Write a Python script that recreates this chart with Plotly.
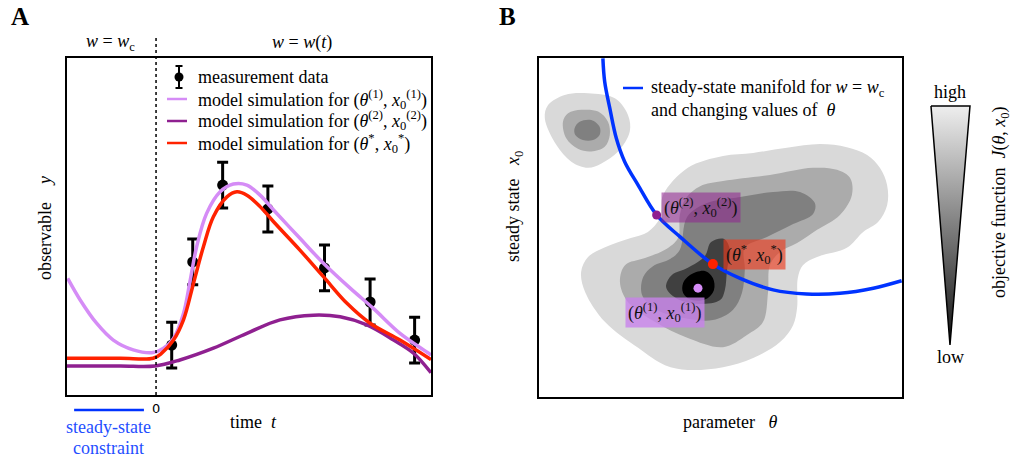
import plotly.graph_objects as go

W, H = 1015, 462
def fx(p): return p / W
def fy(p): return 1 - p / H

SERIF = "Liberation Serif"
LILAC = "#d58cf6"
PURPLE = "#8f2090"
RED = "#ff2200"
BLUE = "#0033ff"

# ---------------- Panel A data ----------------
t_meas = [0.44, 1.03, 1.87, 3.14, 4.73, 6.01, 7.26]
y_meas = [1.48, 3.95, 6.23, 5.52, 3.77, 2.76, 1.63]
y_err = [0.68, 0.68, 0.68, 0.68, 0.68, 0.68, 0.68]

t_sim1 = [-2.48, -2.13, -1.67, -1.20, -0.64, -0.08, 0.21, 0.49, 0.77, 0.96, 1.14, 1.42,
          1.80, 2.17, 2.55, 2.92, 3.30, 4.04, 4.70, 5.45, 6.10, 6.85, 7.65, 7.72]
y_sim1 = [3.46, 2.82, 2.13, 1.63, 1.34, 1.26, 1.39, 1.68, 2.42, 3.41, 4.40, 5.39,
          6.03, 6.26, 6.23, 5.93, 5.49, 4.65, 3.91, 3.17, 2.57, 1.83, 1.24, 1.18]

t_sim2 = [-2.5, -1.0, -0.03, 0.67, 1.61, 2.55, 3.48, 4.42, 5.17, 5.92, 6.67, 7.23, 7.72]
y_sim2 = [0.86, 0.86, 0.86, 1.04, 1.39, 1.83, 2.23, 2.37, 2.32, 2.08, 1.63, 1.24, 0.66]

t_simopt = [-2.5, -1.0, -0.08, 0.16, 0.49, 0.77, 1.05, 1.33, 1.61, 1.99, 2.27, 2.55,
            2.92, 3.30, 4.04, 4.70, 5.36, 6.01, 6.85, 7.72]
y_simopt = [1.09, 1.09, 1.09, 1.24, 1.63, 2.23, 3.31, 4.40, 5.29, 5.88, 6.03, 5.93,
            5.59, 5.14, 4.30, 3.51, 2.72, 2.13, 1.63, 1.05]

t_steady_constraint = [-2.30, -0.34]

# ---------------- Panel B data ----------------
ul_light_th = [1.35, 2.09, 2.45, 2.50, 2.18, 1.72, 1.35, 0.89, 0.48, 0.16, 0.25, 0.71, 1.35]
ul_light_x0 = [8.96, 8.81, 8.32, 7.83, 7.24, 6.89, 6.76, 6.94, 7.43, 8.22, 8.61, 8.91, 8.96]
ul_mid_th = [0.66, 0.80, 1.17, 1.63, 1.90, 1.95, 1.81, 1.44, 1.07, 0.75, 0.66]
ul_mid_x0 = [8.12, 8.37, 8.47, 8.42, 8.12, 7.73, 7.38, 7.24, 7.32, 7.63, 8.12]
ul_dark_th = [0.98, 1.12, 1.44, 1.67, 1.67, 1.49, 1.21, 1.00, 0.98]
ul_dark_x0 = [7.93, 8.12, 8.17, 7.97, 7.73, 7.58, 7.58, 7.73, 7.93]

main_light_th = [3.42, 4.10, 5.07, 5.90, 6.83, 7.74, 8.48, 9.04, 9.39, 9.59, 9.59, 9.34, 8.93,
                 8.48, 7.66, 7.27, 7.13, 7.11, 7.00, 6.64, 5.90, 5.07, 4.10, 3.47, 2.73,
                 1.82, 1.27, 1.16, 1.35, 1.82, 2.53, 3.00, 3.33, 3.42]
main_light_x0 = [5.96, 6.76, 7.11, 7.20, 7.35, 7.46, 7.37, 7.14, 6.76, 6.25, 5.66, 5.16, 4.87,
                 4.40, 4.13, 3.89, 3.51, 2.63, 2.12, 1.62, 1.15, 0.88, 0.80, 0.94, 1.45,
                 2.21, 3.10, 3.69, 4.13, 4.42, 4.69, 4.87, 5.28, 5.96]
main_mid_th = [3.83, 3.88, 4.05, 4.44, 5.07, 6.36, 7.55, 8.21, 8.57, 8.62, 8.29, 7.66, 7.11,
               6.64, 6.36, 6.31, 6.17, 5.73, 5.07, 4.10, 3.20, 2.45, 2.23, 2.37, 2.92, 3.47, 3.83]
main_mid_x0 = [4.69, 5.37, 5.87, 6.22, 6.37, 6.55, 6.76, 6.70, 6.46, 5.96, 5.37, 4.93, 4.54,
               4.28, 3.89, 3.10, 2.21, 1.83, 1.47, 1.74, 2.21, 2.80, 3.39, 3.89, 4.10, 4.34, 4.69]
main_dark_th = [3.88, 4.08, 4.63, 5.54, 6.45, 7.19, 7.60, 7.55, 7.00, 6.28, 5.67, 5.67, 5.59,
                5.34, 4.79, 3.99, 3.25, 2.84, 2.87, 3.14, 3.61, 3.88]
main_dark_x0 = [4.34, 5.31, 5.72, 5.90, 6.05, 6.05, 5.72, 5.40, 5.10, 4.72, 4.40, 3.75, 3.07,
                2.57, 2.27, 2.33, 2.57, 3.01, 3.54, 3.86, 4.07, 4.34]
main_darker_th = [3.50, 3.66, 4.10, 4.57, 4.74, 5.10, 5.26, 5.18, 5.12, 4.99, 4.44, 3.88, 3.55, 3.50]
main_darker_x0 = [3.30, 3.60, 3.81, 4.16, 4.57, 4.66, 4.34, 3.75, 3.16, 2.86, 2.74, 2.86, 3.13, 3.30]
main_black_th = [3.97, 4.16, 4.57, 4.79, 4.82, 4.60, 4.21, 3.97, 3.97]
main_black_x0 = [3.36, 3.60, 3.72, 3.51, 3.16, 2.89, 2.86, 3.07, 3.36]

manifold_th = [1.76, 1.81, 1.95, 2.13, 2.36, 2.73, 3.24, 3.88, 4.79, 5.54, 6.45, 7.37, 8.29, 9.21, 9.99]
manifold_x0 = [9.99, 9.30, 8.52, 7.63, 6.94, 6.25, 5.37, 4.73, 3.92, 3.50, 3.16, 3.04, 3.06, 3.21, 3.43]

pt1 = (4.38, 3.21)
pt2 = (3.24, 5.37)
pt_opt = (4.79, 3.92)
lab1 = (3.47, 2.48)
lab2 = (4.45, 5.60)
lab_opt = (5.94, 4.19)

wedge_x = [0.183, 0.833, 0.5, 0.183]
wedge_y = [0.976, 0.976, 0.02, 0.976]

fig = go.Figure()

# Panel A
fig.add_trace(go.Scatter(x=t_meas, y=y_meas, mode="markers",
                         marker=dict(color="black", size=11),
                         error_y=dict(type="data", array=y_err, color="black", thickness=3, width=5.5),
                         xaxis="x", yaxis="y", showlegend=False))
fig.add_trace(go.Scatter(x=t_sim1, y=y_sim1, mode="lines", line=dict(color=LILAC, width=3.5, shape="spline"),
                         xaxis="x", yaxis="y", showlegend=False))
fig.add_trace(go.Scatter(x=t_sim2, y=y_sim2, mode="lines", line=dict(color=PURPLE, width=3.5, shape="spline"),
                         xaxis="x", yaxis="y", showlegend=False))
fig.add_trace(go.Scatter(x=t_simopt, y=y_simopt, mode="lines", line=dict(color=RED, width=3.5, shape="spline"),
                         xaxis="x", yaxis="y", showlegend=False))

# Panel B filled contour regions
regions = [
    (ul_light_th, ul_light_x0, "#d9d9d9"),
    (ul_mid_th, ul_mid_x0, "#ababab"),
    (ul_dark_th, ul_dark_x0, "#808080"),
    (main_light_th, main_light_x0, "#d9d9d9"),
    (main_mid_th, main_mid_x0, "#ababab"),
    (main_dark_th, main_dark_x0, "#808080"),
    (main_darker_th, main_darker_x0, "#404040"),
    (main_black_th, main_black_x0, "#000000"),
]
for xs, ys, c in regions:
    fig.add_trace(go.Scatter(x=xs, y=ys, mode="lines", fill="toself", fillcolor=c,
                             line=dict(width=0, color=c, shape="spline", smoothing=1.0),
                             xaxis="x2", yaxis="y2", showlegend=False, hoverinfo="skip"))

fig.add_trace(go.Scatter(x=manifold_th, y=manifold_x0, mode="lines",
                         line=dict(color=BLUE, width=3.5, shape="spline"),
                         xaxis="x2", yaxis="y2", showlegend=False))
for (p, c, s) in [(pt2, PURPLE, 9), (pt_opt, RED, 10), (pt1, LILAC, 9)]:
    fig.add_trace(go.Scatter(x=[p[0]], y=[p[1]], mode="markers", marker=dict(color=c, size=s),
                             xaxis="x2", yaxis="y2", showlegend=False))

# Gradient wedge (objective function scale)
fig.add_trace(go.Scatter(x=wedge_x, y=wedge_y, mode="lines", fill="toself",
                         line=dict(color="black", width=1.5),
                         fillgradient=dict(type="vertical",
                                           colorscale=[[0, "#111111"], [1, "#eeeeee"]]),
                         xaxis="x3", yaxis="y3", showlegend=False, hoverinfo="skip"))

box = dict(showline=True, mirror=True, linecolor="black", linewidth=2,
           showgrid=False, zeroline=False, ticks="")

fig.update_layout(
    width=W, height=H, margin=dict(l=0, r=0, t=0, b=0),
    paper_bgcolor="white", plot_bgcolor="white",
    font=dict(family=SERIF, size=18, color="black"),
    xaxis=dict(domain=[fx(67), fx(431)], range=[-2.5, 7.72], anchor="y",
               tickvals=[0], ticktext=["0"], tickfont=dict(family="DejaVu Sans", size=13), **box),
    yaxis=dict(domain=[fy(395), fy(58)], range=[0, 10], anchor="x", showticklabels=False, **box),
    xaxis2=dict(domain=[fx(539), fx(902)], range=[0, 10], anchor="y2", showticklabels=False, **box),
    yaxis2=dict(domain=[fy(397), fy(58)], range=[0, 10], anchor="x2", showticklabels=False, **box),
    xaxis3=dict(domain=[fx(920), fx(980)], range=[0, 1], anchor="y3", visible=False),
    yaxis3=dict(domain=[fy(350), fy(100)], range=[0, 1], anchor="x3", visible=False),
)

shapes = []
# dotted t=0 line
shapes.append(dict(type="line", xref="x", yref="paper", x0=0, x1=0, y0=fy(395), y1=fy(38),
                   line=dict(color="black", width=1.5, dash="dot")))
# steady-state constraint bar below axis
shapes.append(dict(type="line", xref="x", yref="paper", x0=t_steady_constraint[0], x1=t_steady_constraint[1],
                   y0=fy(410), y1=fy(410), line=dict(color=BLUE, width=2.5)))
# legend A glyphs
shapes.append(dict(type="line", xref="paper", yref="paper", x0=fx(179), x1=fx(179), y0=fy(66), y1=fy(88),
                   line=dict(color="black", width=2)))
for yy in (66, 88):
    shapes.append(dict(type="line", xref="paper", yref="paper", x0=fx(175.5), x1=fx(182.5), y0=fy(yy), y1=fy(yy),
                       line=dict(color="black", width=2)))
shapes.append(dict(type="circle", xref="paper", yref="paper", x0=fx(174.5), x1=fx(183.5), y0=fy(72.5), y1=fy(81.5),
                   fillcolor="black", line=dict(color="black", width=0)))
for yy, c in ((99, LILAC), (121, PURPLE), (143, RED)):
    shapes.append(dict(type="line", xref="paper", yref="paper", x0=fx(167), x1=fx(187), y0=fy(yy), y1=fy(yy),
                       line=dict(color=c, width=2.5)))
# legend B glyph
shapes.append(dict(type="line", xref="paper", yref="paper", x0=fx(623), x1=fx(643), y0=fy(88), y1=fy(88),
                   line=dict(color=BLUE, width=2.5)))
fig.update_layout(shapes=shapes)

ann = []
def note(text, x, y, size=18, xanchor="center", angle=0, color="black", family=SERIF, **kw):
    ann.append(dict(text=text, x=fx(x), y=fy(y), xref="paper", yref="paper", showarrow=False,
                    xanchor=xanchor, yanchor="middle", textangle=angle,
                    font=dict(size=size, color=color, family=family), **kw))

note("<b>A</b>", 20, 16, size=25)
note("<b>B</b>", 507, 16, size=25)
note("<i>w</i> = <i>w</i><sub>c</sub>", 110, 42)
note("<i>w</i> = <i>w</i>(<i>t</i>)", 302, 42)
note("measurement data", 196, 77, xanchor="left")
note("model simulation for (<i>θ</i><sup>(1)</sup>, <i>x</i><sub>0</sub><sup>(1)</sup>)", 196, 99, xanchor="left")
note("model simulation for (<i>θ</i><sup>(2)</sup>, <i>x</i><sub>0</sub><sup>(2)</sup>)", 196, 121, xanchor="left")
note("model simulation for (<i>θ</i><sup>*</sup>, <i>x</i><sub>0</sub><sup>*</sup>)", 196, 143, xanchor="left")
note("time  <i>t</i>", 253, 422)
note("observable    <i>y</i>", 45, 228, angle=-90)
note("steady-state", 108, 427, color="#1f4fff")
note("constraint", 108, 448, color="#1f4fff")

note("steady-state manifold for <i>w</i> = <i>w</i><sub>c</sub>", 649, 88, xanchor="left")
note("and changing values of  <i>θ</i>", 649, 110, xanchor="left")
note("parameter   <i>θ</i>", 730, 422)
note("steady state   <i>x</i><sub>0</sub>", 514, 207, angle=-90)
note("high", 950, 92)
note("low", 950, 357)
note("objective function  <i>J</i>(<i>θ</i>, <i>x</i><sub>0</sub>)", 1001, 202, angle=-90)

for (p, txt, bg) in [
    (lab2, "(<i>θ</i><sup>(2)</sup>, <i>x</i><sub>0</sub><sup>(2)</sup>)", "rgba(143,32,144,0.55)"),
    (lab_opt, "(<i>θ</i><sup>*</sup>, <i>x</i><sub>0</sub><sup>*</sup>)", "rgba(235,60,30,0.65)"),
    (lab1, "(<i>θ</i><sup>(1)</sup>, <i>x</i><sub>0</sub><sup>(1)</sup>)", "rgba(200,130,235,0.8)"),
]:
    ann.append(dict(text=txt, x=p[0], y=p[1], xref="x2", yref="y2", showarrow=False,
                    xanchor="center", yanchor="middle", bgcolor=bg, borderpad=2,
                    font=dict(size=18, color="#111111", family=SERIF)))

fig.update_layout(annotations=ann)
fig.write_html("out.html", config={"displayModeBar": False},
               post_script="document.body.style.margin='0';document.body.style.overflow='hidden';")
